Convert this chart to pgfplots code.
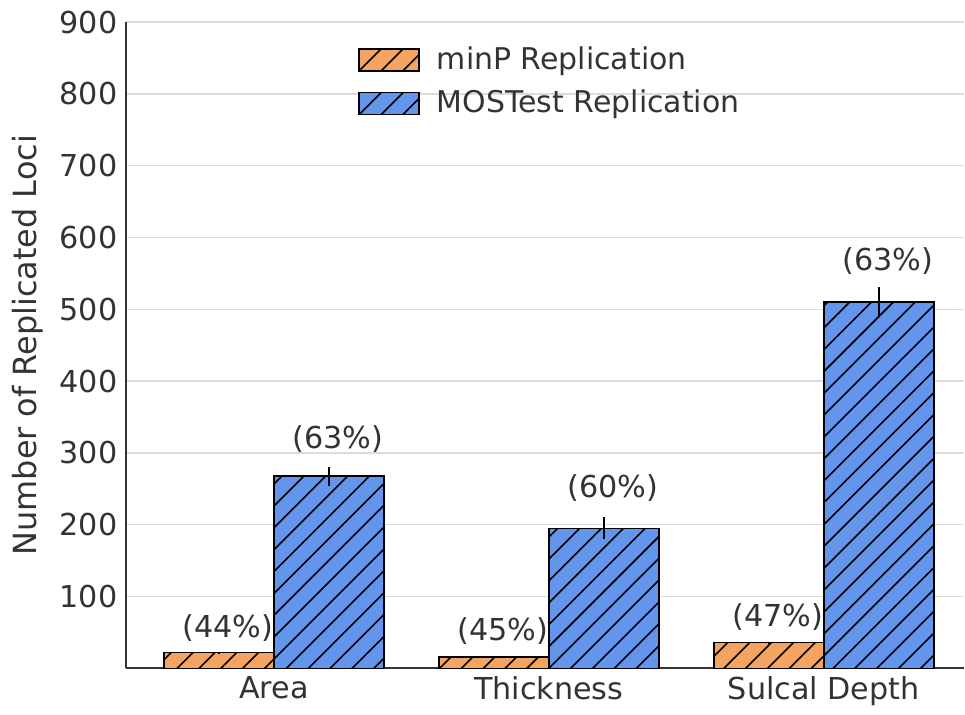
\documentclass[border=0pt]{standalone}
\usepackage{fontspec}
\setmainfont{DejaVu Sans}
\usepackage{pgfplots}
\pgfplotsset{compat=1.18}
\usetikzlibrary{patterns.meta}

\definecolor{minp}{HTML}{F4A460}
\definecolor{most}{HTML}{6495ED}
\definecolor{txt}{HTML}{333333}
\definecolor{gridc}{HTML}{DCDCDC}

\tikzset{hatch/.style={postaction={pattern={Lines[angle=45,distance=6.3pt,line width=0.65pt]}, pattern color=black}}}

\begin{document}
\begin{tikzpicture}
\begin{axis}[
    name=ax,
    width=341.5pt, height=263.3pt, scale only axis,
    xmin=-0.538, xmax=2.51, ymin=0, ymax=900,
    axis x line*=bottom, axis y line*=left,
    axis line style={txt, line width=0.8pt, -},
    xtick={0,1,2},
    xticklabels={Area,Thickness,Sulcal Depth},
    ytick={100,200,...,900},
    major tick length=0pt,
    ymajorgrids,
    grid style={gridc, line width=0.6pt},
    tick label style={font=\fontsize{12.3}{14}\selectfont, text=txt},
    /pgf/number format/assume math mode=true,
    ylabel={Number of Replicated Loci},
    ylabel style={font=\fontsize{13}{15}\selectfont, text=txt},
    legend image code/.code={\draw[#1] (0pt,-4.5pt) rectangle (24.4pt,4.5pt);},
    legend cell align=left,
    legend style={at={(0.268,0.978)}, anchor=north west, draw=none, fill=none,
        font=\fontsize{12.2}{14}\selectfont, text=txt, row sep=3pt,
        /tikz/every odd column/.append style={column sep=5pt}},
]
% minP replication
\addplot[ybar, bar width=0.4, bar shift=0pt, fill=minp, draw=black, line width=0.6pt, hatch,
    error bars/.cd, y dir=both, y explicit, error mark=none,
    error bar style={black, line width=0.7pt}]
    coordinates {(-0.2,21.8) +- (0,1.5) (0.8,15.5) +- (0,1.5) (1.8,35.7) +- (0,1.5)};
\addlegendentry{minP Replication}
% MOSTest replication
\addplot[ybar, bar width=0.4, bar shift=0pt, fill=most, draw=black, line width=0.6pt, hatch,
    error bars/.cd, y dir=both, y explicit, error mark=none,
    error bar style={black, line width=0.7pt}]
    coordinates {(0.2,267.5) +- (0,13) (1.2,195) +- (0,15.5) (2.2,510) +- (0,21)};
\addlegendentry{MOSTest Replication}
% percentage labels
\addplot[draw=none, mark=none, forget plot, nodes near coords, point meta=explicit symbolic,
    every node near coord/.append style={anchor=south, inner sep=0pt,
        font=\fontsize{12.3}{14}\selectfont, text=txt}]
    coordinates {(-0.168,36) [(44\%)] (0.232,300) [(63\%)] (0.832,32) [(45\%)]
                 (1.232,232) [(60\%)] (1.832,52) [(47\%)] (2.232,548) [(63\%)]};
\end{axis}
\path ([yshift=9pt]ax.north west) ([xshift=-51.3pt]ax.south west);
\end{tikzpicture}
\end{document}
